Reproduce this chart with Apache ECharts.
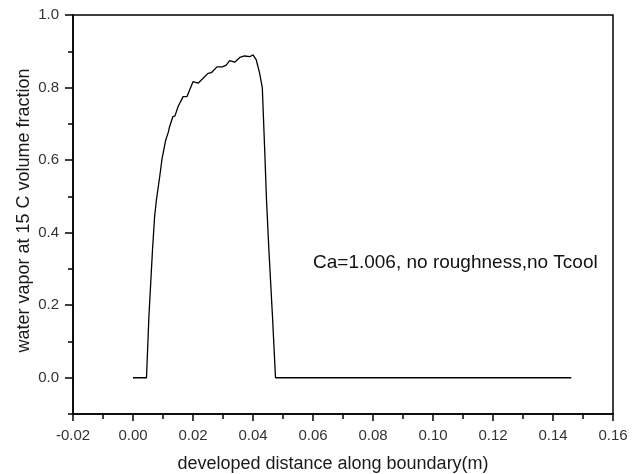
<!DOCTYPE html>
<html>
<head>
<meta charset="utf-8">
<script src="https://cdn.jsdelivr.net/npm/echarts@6/dist/echarts.min.js"></script>
<style>html,body{margin:0;padding:0;background:#fff}#c{width:643px;height:474px}</style>
</head>
<body>
<div id="c"></div>
<script>
var xValues = [0, 0.0045, 0.0053, 0.0065, 0.0072, 0.0078, 0.0089, 0.0097, 0.0109, 0.0117, 0.0122, 0.0133, 0.0140, 0.0150, 0.0167, 0.0180, 0.0200, 0.0217, 0.0233, 0.0250, 0.0261, 0.0280, 0.0298, 0.0311, 0.0322, 0.0339, 0.0356, 0.0372, 0.0389, 0.0400, 0.0411, 0.0422, 0.0431, 0.0439, 0.0445, 0.0453, 0.0465, 0.0475, 0.1461];
var yValues = [0, 0, 0.168, 0.352, 0.444, 0.490, 0.554, 0.605, 0.655, 0.675, 0.692, 0.720, 0.722, 0.747, 0.775, 0.775, 0.816, 0.812, 0.825, 0.839, 0.841, 0.857, 0.857, 0.862, 0.874, 0.870, 0.883, 0.887, 0.885, 0.890, 0.876, 0.840, 0.800, 0.628, 0.490, 0.352, 0.168, 0, 0];
var yMajorTicks = [0, 0.2, 0.4, 0.6, 0.8, 1.0];
var yMinorTicks = [-0.1, 0.1, 0.3, 0.5, 0.7, 0.9];
var xTitle = 'developed distance along boundary(m)';
var yTitle = 'water vapor at 15 C volume fraction';
var note = 'Ca=1.006, no roughness,no Tcool';

var pts = xValues.map(function (x, i) { return [x, yValues[i]]; });
var font = '"Liberation Sans", Arial, sans-serif';
var chart = echarts.init(document.getElementById('c'), null, {renderer: 'canvas'});
var tickStyle = {color: '#000', width: 1.5};
chart.setOption({
  animation: false,
  backgroundColor: '#fff',
  grid: {left: 73, right: 30, top: 15, bottom: 60, outerBoundsMode: 'none', containLabel: false, show: true, borderColor: '#000', borderWidth: 1.5, backgroundColor: 'transparent'},
  xAxis: {
    type: 'value', min: -0.02, max: 0.16, interval: 0.02,
    name: xTitle, nameLocation: 'middle', nameGap: 41, nameMoveOverlap: false,
    nameTextStyle: {fontFamily: font, fontSize: 18, color: '#1a1a1a', padding: [0, 20, 0, 0]},
    axisLine: {show: true, onZero: false, lineStyle: tickStyle},
    axisTick: {show: true, length: 7, lineStyle: tickStyle},
    minorTick: {show: true, splitNumber: 2, length: 5, lineStyle: tickStyle},
    splitLine: {show: false},
    axisLabel: {margin: 14, fontFamily: font, fontSize: 15, color: '#333', formatter: function (v) { return v.toFixed(2); }}
  },
  yAxis: [{
    type: 'value', min: -0.1, max: 1.0,
    name: yTitle, nameLocation: 'middle', nameGap: 40, nameMoveOverlap: false,
    nameTextStyle: {fontFamily: font, fontSize: 18, color: '#1a1a1a', padding: [0, 0, 0, 8]},
    axisLine: {show: true, onZero: false, lineStyle: tickStyle},
    axisTick: {show: false},
    splitLine: {show: false},
    axisLabel: {margin: 14, fontFamily: font, fontSize: 15, color: '#333', customValues: yMajorTicks, formatter: function (v) { return v.toFixed(1); }}
  }, {
    type: 'value', min: -0.1, max: 1.0, position: 'left', offset: 0,
    axisLine: {show: false, onZero: false},
    axisTick: {show: true, length: 5, customValues: yMinorTicks, lineStyle: tickStyle},
    splitLine: {show: false},
    axisLabel: {show: false}
  }, {
    type: 'value', min: -0.1, max: 1.0, position: 'left', offset: 0,
    axisLine: {show: false, onZero: false},
    axisTick: {show: true, length: 8, customValues: yMajorTicks, lineStyle: tickStyle},
    splitLine: {show: false},
    axisLabel: {show: false}
  }],
  graphic: [{
    type: 'text', left: 313, top: 253,
    style: {text: note, font: '19px ' + font, fill: '#111'}
  }],
  series: [{
    type: 'line', data: pts, yAxisIndex: 0, showSymbol: false, symbol: 'none',
    lineStyle: {color: '#000', width: 1.3}
  }]
});
</script>
</body>
</html>
